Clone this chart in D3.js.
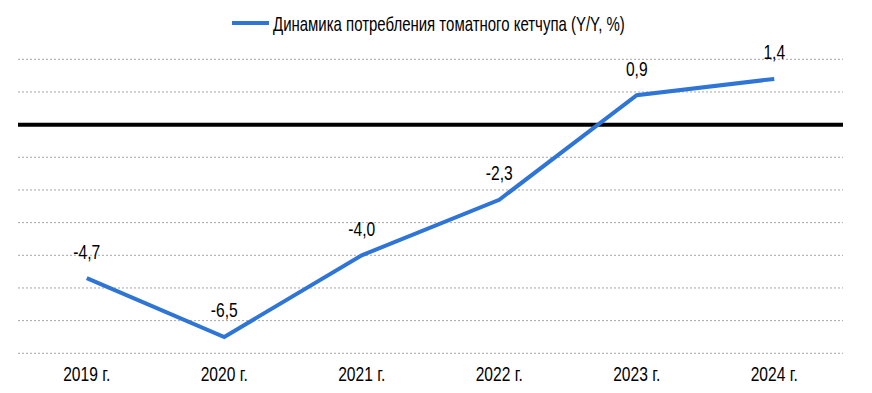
<!DOCTYPE html>
<html>
<head>
<meta charset="utf-8">
<script src="https://cdn.jsdelivr.net/npm/d3@7"></script>
<style>
  body { margin: 0; background: #fff; }
  svg text { font-family: "Liberation Sans", Arial, sans-serif; fill: #000; font-size: 20px; }
</style>
</head>
<body>
<div id="chart"></div>
<script>
///////////////////////////
// DATA
///////////////////////////

const years = ['2019 г.', '2020 г.', '2021 г.', '2022 г.', '2023 г.', '2024 г.'];
const values = [-4.7, -6.5, -4.0, -2.3, 0.9, 1.4];
const gridTicks = [2, 1, -1, -2, -3, -4, -5, -6, -7];
const seriesName = 'Динамика потребления томатного кетчупа (Y/Y, %)';

///////////////////////////
// CHART
///////////////////////////

const width = 872;
const height = 393;
const lineColor = '#2e75d6';
// no narrow font installed, so squeeze the regular one
const narrow = 0.78;

const svg = d3.select('#chart')
    .append('svg')
    .attr('width', width)
    .attr('height', height);

const x = d3.scalePoint()
    .domain(years)
    .range([18, 843])
    .padding(0.5);

const y = d3.scaleLinear()
    .domain([-7, 2])
    .range([353.3, 59.3]);

// dotted gridlines
svg.selectAll('.grid')
    .data(gridTicks)
    .enter().append('line')
    .attr('class', 'grid')
    .attr('x1', 18)
    .attr('x2', 843)
    .attr('y1', (d) => { return y(d) })
    .attr('y2', (d) => { return y(d) })
    .style('stroke', '#a6a6a6')
    .style('stroke-width', 1)
    .style('stroke-dasharray', '2,2');

// zero line
svg.append('line')
    .attr('x1', 18)
    .attr('x2', 843)
    .attr('y1', y(0))
    .attr('y2', y(0))
    .style('stroke', '#000')
    .style('stroke-width', 4);

// x axis labels
svg.selectAll('.xlabel')
    .data(years)
    .enter().append('text')
    .attr('class', 'xlabel')
    .attr('transform', (d) => { return `translate(${x(d)}, ${y(-7) + 28}) scale(${narrow}, 1)` })
    .attr('text-anchor', 'middle')
    .text((d) => { return d });

// the line
const line = d3.line()
    .x((d, i) => { return x(years[i]) })
    .y((d) => { return y(d) });

svg.append('path')
    .datum(values)
    .attr('d', line)
    .style('fill', 'none')
    .style('stroke', lineColor)
    .style('stroke-width', 4)
    .style('stroke-linejoin', 'miter');

// value labels
svg.selectAll('.value')
    .data(values)
    .enter().append('text')
    .attr('class', 'value')
    .attr('transform', (d, i) => { return `translate(${x(years[i])}, ${y(d) - 19.5}) scale(${narrow}, 1)` })
    .attr('text-anchor', 'middle')
    .text((d) => { return d.toFixed(1).replace('.', ',') });

// legend
const legend = svg.append('g');
legend.append('line')
    .attr('x1', 232)
    .attr('x2', 269)
    .attr('y1', 23)
    .attr('y2', 23)
    .style('stroke', lineColor)
    .style('stroke-width', 4);
legend.append('text')
    .attr('transform', `translate(273, 31) scale(${narrow * 0.96}, 1)`)
    .text(seriesName);
</script>
</body>
</html>
